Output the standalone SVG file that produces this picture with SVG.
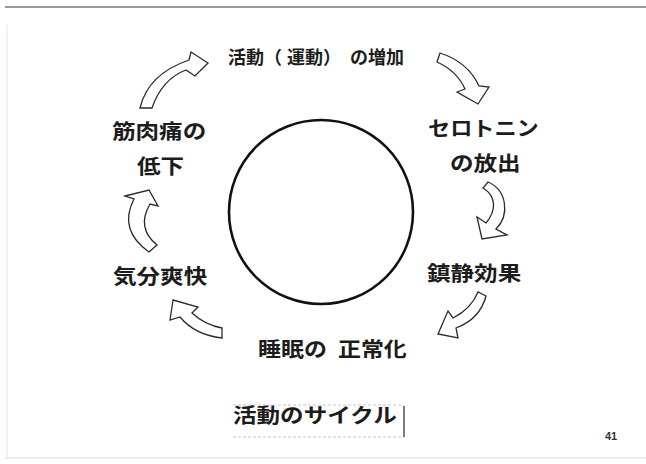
<svg xmlns="http://www.w3.org/2000/svg" width="646" height="464" viewBox="0 0 646 464">
<style>
.lbl{font-family:"Noto Sans CJK JP","Noto Sans CJK SC",sans-serif;font-weight:700;fill:#1c1c1c;font-size:20.5px}
.top{font-size:18px}
.arr{fill:#fff;stroke:#2a2a2a;stroke-width:1.3;stroke-linejoin:miter}
.pg{font-family:"Liberation Sans",Arial,sans-serif;font-weight:700;font-size:11px;fill:#333}
</style>
<rect width="646" height="464" fill="#fff"/>
<g id="frame">
<line x1="5" y1="7" x2="646" y2="7" stroke="#777" stroke-width="1.5"/>
<line x1="7" y1="25" x2="7" y2="458" stroke="#e4e4e4" stroke-width="1"/>
<line x1="5" y1="458" x2="646" y2="458" stroke="#dcdcdc" stroke-width="1"/>
</g>
<g id="center-circle">
<circle cx="321" cy="212" r="92" fill="none" stroke="#111" stroke-width="2.6"/>
</g>
<g id="connectors">
<path class="arr" d="M140,108 Q148,74 189,60 L191,52 L208,63 L195,76 L186,70 Q162,79 152,108 Z"/>
<path class="arr" d="M440,53 Q468,62 479,86 L489,87 L478,104 L457,92 L465,89 Q457,71 437,62 Z"/>
<path class="arr" d="M488,182 C507,190 510,215 496,229 L507,235 L482,239 L477,217 L486,223 C497,210 496,196 483,188 Z"/>
<path class="arr" d="M486,296 Q480,319 456,328 L458,338 L438,334 L448,311 L453,318 Q471,309 478,292 Z"/>
<path class="arr" d="M173,300 L198,307 L192,313 Q205,325 222,328 L222,338 Q195,335 180,317 L170,320 Z"/>
<path class="arr" d="M125,196 L149,190 L158,206 L150,204 Q136,228 157,245 L149,252 Q118,230 134,199 Z"/>
</g>
<g id="node-activity">
<text class="lbl top" x="228" y="64">活動（ <tspan x="287">運動）</tspan><tspan x="350">の増加</tspan></text>
</g>
<g id="node-serotonin">
<text class="lbl" transform="translate(428,136) scale(1.08,1)">セロトニン</text>
<text class="lbl" transform="translate(450,171) scale(1.15,1)">の放出</text>
</g>
<g id="node-sedation">
<text class="lbl" transform="translate(427,281) scale(1.15,1)">鎮静効果</text>
</g>
<g id="node-sleep">
<text class="lbl" transform="translate(258,357) scale(1.12,1)">睡眠の<tspan x="71.4">正常化</tspan></text>
</g>
<g id="node-mood">
<text class="lbl" transform="translate(113,284) scale(1.15,1)">気分爽快</text>
</g>
<g id="node-pain">
<text class="lbl" transform="translate(112,139) scale(1.15,1)">筋肉痛の</text>
<text class="lbl" transform="translate(137,174) scale(1.15,1)">低下</text>
</g>
<g id="title">
<line x1="233" y1="405" x2="404" y2="405" stroke="#c8c8c8" stroke-width="1" stroke-dasharray="3 2"/>
<line x1="233" y1="437" x2="404" y2="437" stroke="#c8c8c8" stroke-width="1" stroke-dasharray="3 2"/>
<line x1="404" y1="406" x2="404" y2="437" stroke="#333" stroke-width="1.3"/>
<text class="lbl" transform="translate(233,423) scale(1.15,1)">活動のサイクル</text>
</g>
<text class="pg" x="605" y="440">41</text>
</svg>
